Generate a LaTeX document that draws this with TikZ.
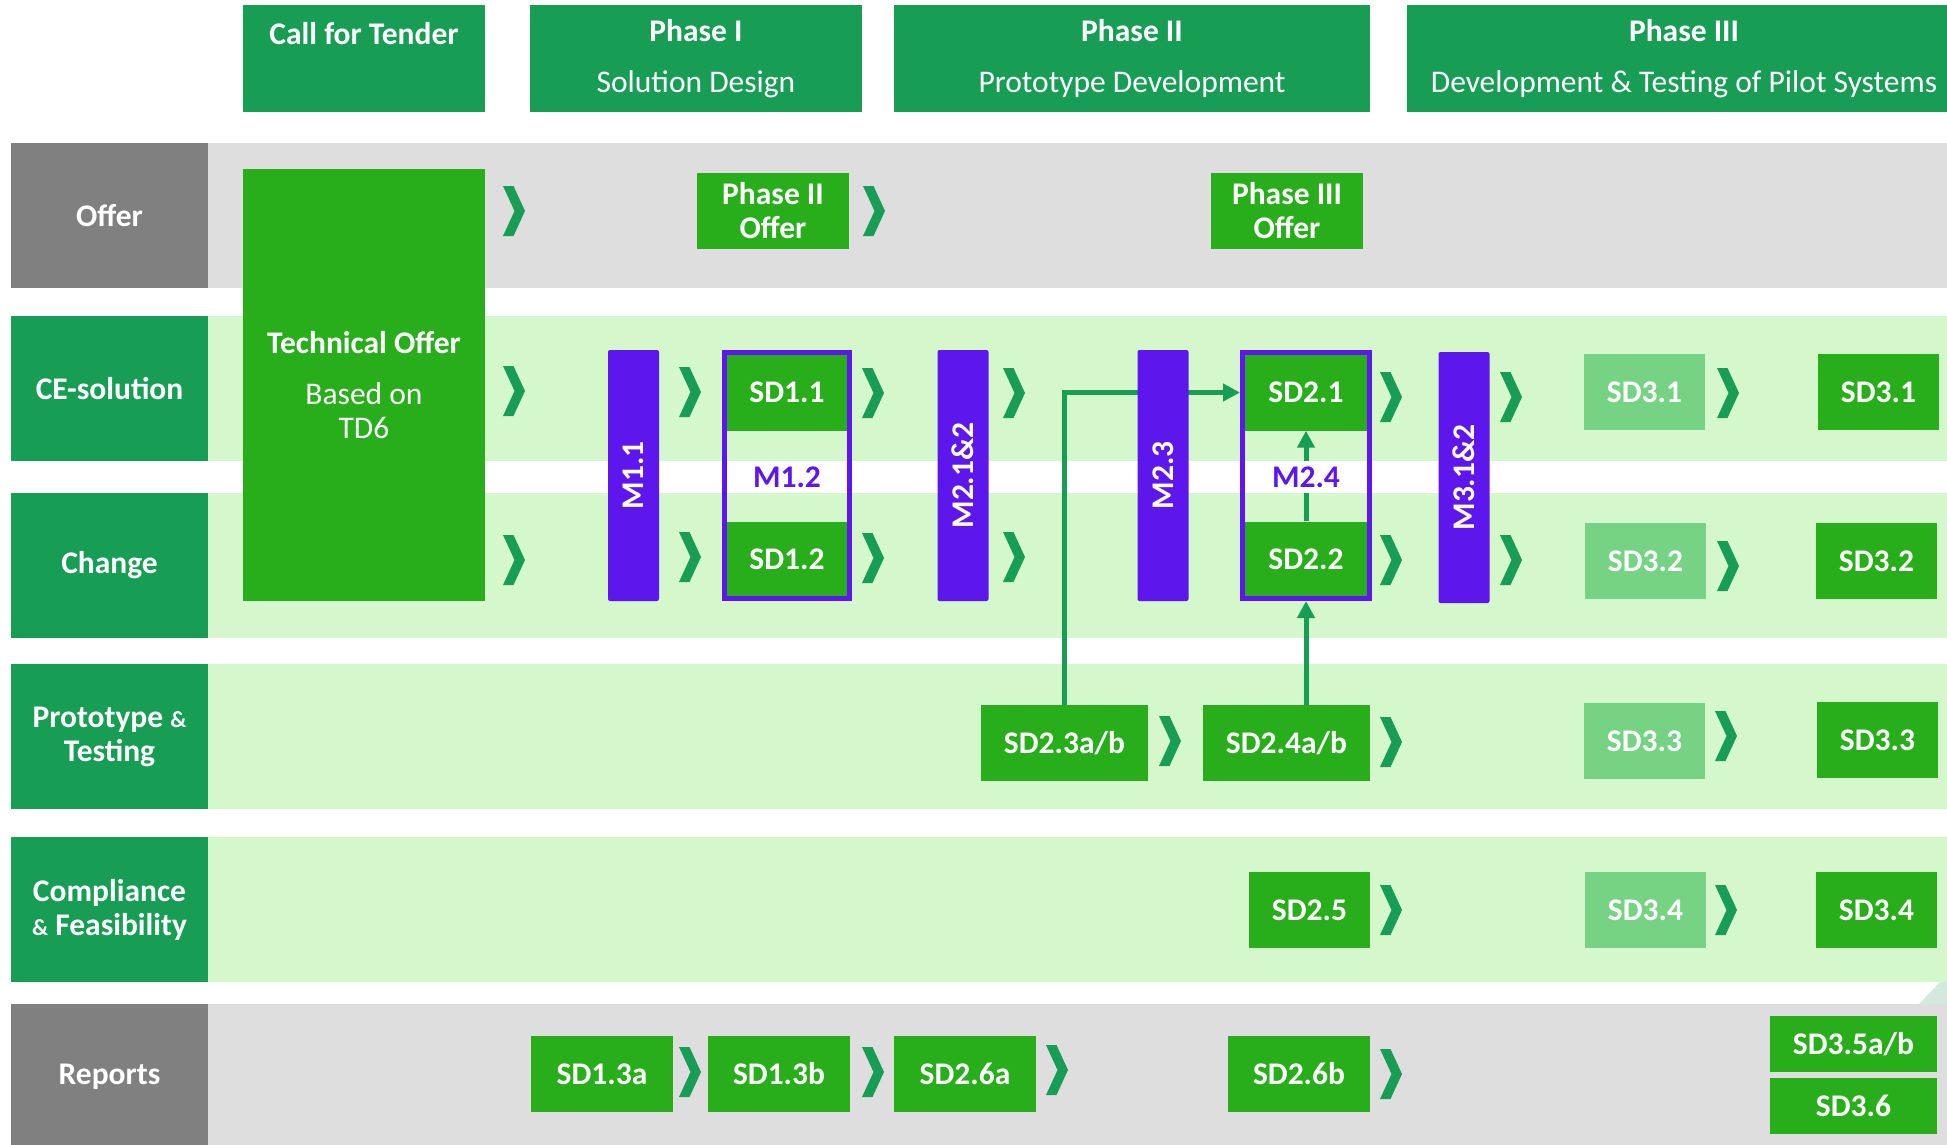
\documentclass[tikz,border=0pt]{standalone}
\usepackage{fontspec}
\setmainfont{Carlito}
\usepackage{xcolor}
\usepackage{tikz}
\usetikzlibrary{arrows.meta, positioning}

\definecolor{hdrgreen}{RGB}{24,157,85}
\definecolor{boxgreen}{RGB}{39,174,26}
\definecolor{lightbox}{RGB}{118,211,132}
\definecolor{rowgreen}{RGB}{212,247,204}
\definecolor{rowgrey}{RGB}{222,222,222}
\definecolor{labelgrey}{RGB}{128,128,128}
\definecolor{mpurple}{RGB}{93,22,235}
\definecolor{cornerteal}{RGB}{211,233,221}

\newcommand{\smallamp}{{\fontsize{23}{34}\selectfont\&}}

\begin{document}
\begin{tikzpicture}[x=1pt, y=-1pt,
    txt/.style={text=white, font=\fontsize{31.5}{34}\selectfont\bfseries, align=center, inner sep=0pt},
    header/.style={txt, fill=hdrgreen, minimum width=#1, minimum height=107},
    rowlabel/.style={txt, fill=hdrgreen, minimum width=197, minimum height=145},
    greylabel/.style={rowlabel, fill=labelgrey},
    sdbox/.style={txt, fill=boxgreen, minimum width=#1, minimum height=76},
    sdbox/.default=121,
    sdlight/.style={sdbox, fill=lightbox},
    mbar/.style={txt, fill=mpurple, rounded corners=2, minimum width=251, minimum height=51, rotate=90},
    mframe/.style={draw=mpurple, line width=5, minimum height=246, inner sep=0pt},
    mlabel/.style={text=mpurple, font=\fontsize{31.5}{34}\selectfont\bfseries, inner sep=0pt},
    link/.style={draw=hdrgreen, line width=5, -{Triangle[length=17,width=17]}},
    chev/.pic={\fill[hdrgreen] (0,-25) -- (10.5,-25) -- (22,0) -- (10.5,25) -- (0,25) -- (11.5,0) -- cycle;}
]
\useasboundingbox (0,0) rectangle (1947,1144);
\clip (0,0) rectangle (1947,1144);

% Row bands
\fill[rowgrey] (208,143) rectangle (1947,288);
\fill[rowgreen] (208,316) rectangle (1947,461);
\fill[rowgreen] (208,493) rectangle (1947,638);
\fill[rowgreen] (208,664) rectangle (1947,809);
\fill[rowgreen] (208,837) rectangle (1947,982);
\fill[rowgrey] (208,1004) rectangle (1947,1149);
\fill[cornerteal] (1919,1004) -- (1940,982) -- (1947,982) -- (1947,1004) -- cycle;

% Phase headers
\node[header=242] (tender) at (364,58.5) {Call for Tender\\[17pt]\mbox{}};
\node[header=332] (phase1) at (696,58.5) {Phase I\\[17pt]{\mdseries Solution Design}};
\node[header=476] (phase2) at (1132,58.5) {Phase II\\[17pt]{\mdseries Prototype Development}};
\node[header=554] (phase3) at (1684,58.5) {Phase III\\[17pt]{\mdseries Development \& Testing of Pilot Systems}};

% Row labels
\node[greylabel] (offer) at (109.5,215.5) {Offer};
\node[rowlabel] (cesol) at (109.5,388.5) {CE-solution};
\node[rowlabel] (change) at (109.5,565.5) {Change};
\node[rowlabel] (proto) at (109.5,736.5) {Prototype \smallamp\\Testing};
\node[rowlabel] (comply) at (109.5,909.5) {Compliance\\\smallamp{} Feasibility};
\node[greylabel] (reports) at (109.5,1076.5) {Reports};

% Offer row
\node[sdbox, minimum width=242, minimum height=432] (techoffer) at (364,385) {Technical Offer\\[17pt]{\mdseries Based on}\\{\mdseries TD6}};
\node[sdbox=152] (offer2) at (773,211) {Phase II\\Offer};
\node[sdbox=152] (offer3) at (1287,211) {Phase III\\Offer};

% CE-solution and Change rows
\node[sdbox=120] (sd11) at (787,392.5) {SD1.1};
\node[sdbox=120] (sd12) at (787,559.5) {SD1.2};
\node[sdbox=122] (sd21) at (1306,392.5) {SD2.1};
\node[sdbox=122] (sd22) at (1306,559.5) {SD2.2};
\node[sdlight] (sd31a) at (1644.5,392) {SD3.1};
\node[sdbox] (sd31b) at (1878.5,392) {SD3.1};
\node[sdlight] (sd32a) at (1645.5,561) {SD3.2};
\node[sdbox] (sd32b) at (1876.5,561) {SD3.2};
\node[mframe, minimum width=125] (m12) at (787,475.5) {};
\node[mframe, minimum width=127] (m24) at (1306,475.5) {};

% Prototype & Testing row
\node[sdbox=167] (sd23) at (1064.5,743) {SD2.3a/b};
\node[sdbox=167] (sd24) at (1286.5,743) {SD2.4a/b};
\node[sdlight] (sd33a) at (1644.5,741) {SD3.3};
\node[sdbox] (sd33b) at (1877.5,740) {SD3.3};

% Compliance row
\node[sdbox] (sd25) at (1309.5,910) {SD2.5};
\node[sdlight] (sd34a) at (1645.5,910) {SD3.4};
\node[sdbox] (sd34b) at (1876.5,910) {SD3.4};

% Reports row
\node[sdbox=142] (sd13a) at (602,1074) {SD1.3a};
\node[sdbox=142] (sd13b) at (779,1074) {SD1.3b};
\node[sdbox=142] (sd26a) at (965,1074) {SD2.6a};
\node[sdbox=142] (sd26b) at (1299,1074) {SD2.6b};
\node[sdbox=167, minimum height=56] (sd35) at (1853.5,1044) {SD3.5a/b};
\node[sdbox=167, minimum height=56] (sd36) at (1853.5,1106) {SD3.6};

% Connections
\draw[link] (sd23.north) |- (m24.west |- sd21.west);
\draw[link] (sd24.north -| sd22.south) -- (m24.south -| sd22.south);
\draw[link] (sd22.north) -- (sd21.south);

% Milestones
\node[mbar] (m11) at (633.5,475.5) {M1.1};
\node[mbar] (m212) at (963,475.5) {M2.1\&2};
\node[mbar] (m23) at (1163,475.5) {M2.3};
\node[mbar] (m312) at (1464,477.5) {M3.1\&2};
\node[mlabel] (m12lab) at (787,477) {M1.2};
\node[mlabel, fill=white, minimum height=32] (m24lab) at (1306,477) {M2.4};

% Step chevrons
\pic at (503,211) {chev};
\pic at (863,211) {chev};
\pic at (503,391) {chev};
\pic at (679,392) {chev};
\pic at (862,393) {chev};
\pic at (1003,393) {chev};
\pic at (1380,397) {chev};
\pic at (1500,397) {chev};
\pic at (1717,393) {chev};
\pic at (503,560) {chev};
\pic at (679,557) {chev};
\pic at (862,558) {chev};
\pic at (1003,557) {chev};
\pic at (1380,560) {chev};
\pic at (1500,560) {chev};
\pic at (1717,566) {chev};
\pic at (1159,741) {chev};
\pic at (1380,742) {chev};
\pic at (1715,736) {chev};
\pic at (1380,910) {chev};
\pic at (1715,910) {chev};
\pic at (679,1072) {chev};
\pic at (862,1072) {chev};
\pic at (1046,1070) {chev};
\pic at (1380,1074) {chev};

\end{tikzpicture}
\end{document}
